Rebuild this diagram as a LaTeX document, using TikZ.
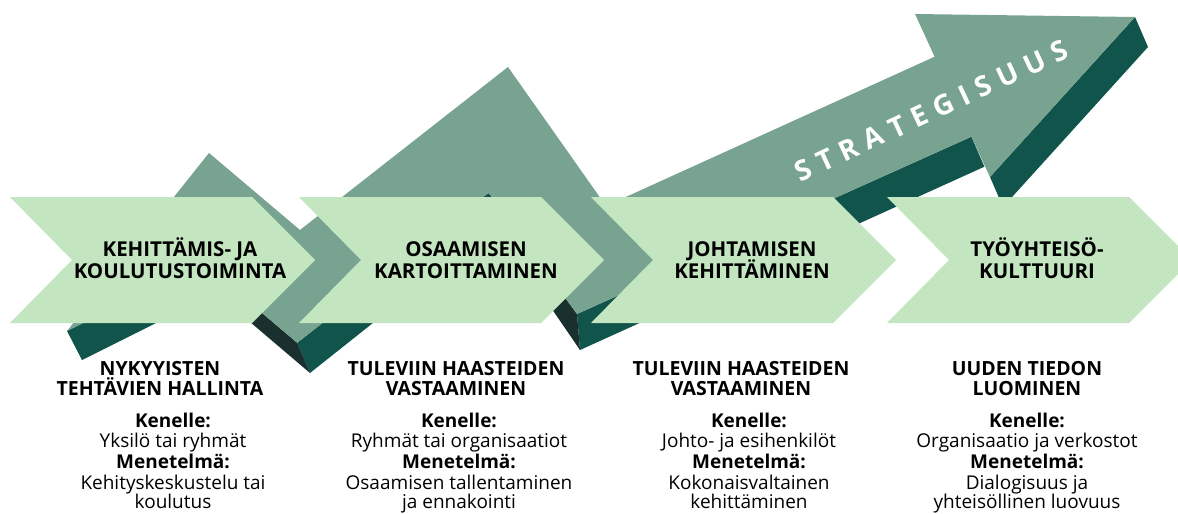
\documentclass[tikz,border=0pt]{standalone}
\usepackage{fontspec}
\setmainfont{Open Sans}
\usetikzlibrary{calc}
\definecolor{chev}{HTML}{C3E6C1}
\definecolor{midg}{HTML}{78A391}
\definecolor{darkg}{HTML}{10544B}
\definecolor{darkst}{HTML}{1A302F}
\newcommand\myls{\kern8.5pt}
\tikzset{
  chevbox/.style={fill=chev},
  topface/.style={fill=midg},
  sideA/.style={fill=darkg},
  sideB/.style={fill=darkst},
  ttl/.style={font=\bfseries\fontsize{20.5}{22}\selectfont, inner sep=0pt, anchor=base, text=black},
  hd/.style={font=\bfseries\fontsize{19.5}{20}\selectfont, inner sep=0pt, anchor=base, text=black},
  bdb/.style={font=\bfseries\fontsize{19}{20}\selectfont, inner sep=0pt, anchor=base, text=black},
  bd/.style={font=\fontsize{19}{20}\selectfont, inner sep=0pt, anchor=base, text=black},
}
\begin{document}
\begin{tikzpicture}[x=1pt,y=-1pt]
\useasboundingbox (0,0) rectangle (1178,514);
\clip (0,0) rectangle (1178,514);
\fill[white] (0,0) rectangle (1178,514);
% zigzag band top-face vertices
\coordinate (v1) at (67,331);
\coordinate (v2) at (209,153);
\coordinate (v3) at (300,230);
\coordinate (v4) at (508,67);
\coordinate (v5) at (606,206);
\coordinate (v6) at (934.6,56.7);
\coordinate (v7) at (915,14);
\coordinate (v8) at (1135,17);
\coordinate (v9) at (990,177);
\coordinate (v10) at (971.4,136.7);
\coordinate (v11) at (577,314);
\coordinate (v12) at (488.5,192.9);
\coordinate (v13) at (297.2,342.8);
\coordinate (v14) at (203,263);
% extruded (lower) vertices
\coordinate (e1) at (82,360);
\coordinate (e8) at (1148,47);
\coordinate (e9) at (1003,207);
\coordinate (e10) at (984.4,166.7);
\coordinate (e11) at (580,350);
\coordinate (e12) at (495,226);
\coordinate (e13) at (310,373);
\coordinate (e14) at (216,293);
% side faces
\fill[sideA] (v8) -- (v9) -- (e9) -- (e8) -- cycle;
\fill[sideA] (v10) -- (v11) -- (e11) -- (e10) -- cycle;
\fill[sideB] (v11) -- (v12) -- (e12) -- (e11) -- cycle;
\fill[sideA] (v12) -- (v13) -- (e13) -- (e12) -- cycle;
\fill[sideB] (v13) -- (v14) -- (e14) -- (e13) -- cycle;
\fill[sideA] (v14) -- (v1) -- (e1) -- (e14) -- cycle;
% top face
\fill[topface] (v1) -- (v2) -- (v3) -- (v4) -- (v5) -- (v6) -- (v7) -- (v8) -- (v9) -- (v10) -- (v11) -- (v12) -- (v13) -- (v14) -- cycle;
% strategisuus label
\node[font=\bfseries\fontsize{28}{28}\selectfont, text=white, rotate=25, inner sep=0pt] (strat) at (931,111)
  {S\myls T\myls R\myls A\myls T\myls E\myls G\myls I\myls S\myls U\myls U\myls S};
% chevrons
\foreach \L in {10,299,591,887}{
  \fill[chevbox] (\L,197) -- (\L+242,197) -- (\L+305,260) -- (\L+242,323) -- (\L,323) -- (\L+62,260) -- cycle;
}
% chevron titles
\node[ttl] (t1a) at (180,256) {KEHITTÄMIS- JA};
\node[ttl] (t1b) at (180,278) {KOULUTUSTOIMINTA};
\node[ttl] (t2a) at (466,256) {OSAAMISEN};
\node[ttl] (t2b) at (466,278) {KARTOITTAMINEN};
\node[ttl] (t3a) at (752,256) {JOHTAMISEN};
\node[ttl] (t3b) at (752,278) {KEHITTÄMINEN};
\node[ttl] (t4a) at (1037,256) {TYÖYHTEISÖ-};
\node[ttl] (t4b) at (1037,278) {KULTTUURI};
% column 1
\node[hd] (h1a) at (160,375) {NYKYYISTEN};
\node[hd] (h1b) at (160,395) {TEHTÄVIEN HALLINTA};
\node[bdb] (k1) at (173,427.3) {Kenelle:};
\node[bd] (k1t) at (173,447.3) {Yksilö tai ryhmät};
\node[bdb] (m1) at (173,468.3) {Menetelmä:};
\node[bd] (m1a) at (173,489.3) {Kehityskeskustelu tai};
\node[bd] (m1b) at (173,508.3) {koulutus};
% column 2
\node[hd] (h2a) at (456,375) {TULEVIIN HAASTEIDEN};
\node[hd] (h2b) at (456,395) {VASTAAMINEN};
\node[bdb] (k2) at (459,427.3) {Kenelle:};
\node[bd] (k2t) at (459,447.3) {Ryhmät tai organisaatiot};
\node[bdb] (m2) at (459,468.3) {Menetelmä:};
\node[bd] (m2a) at (459,489.3) {Osaamisen tallentaminen};
\node[bd] (m2b) at (459,508.3) {ja ennakointi};
% column 3
\node[hd] (h3a) at (741,375) {TULEVIIN HAASTEIDEN};
\node[hd] (h3b) at (741,395) {VASTAAMINEN};
\node[bdb] (k3) at (749,427.3) {Kenelle:};
\node[bd] (k3t) at (749,447.3) {Johto- ja esihenkilöt};
\node[bdb] (m3) at (749,468.3) {Menetelmä:};
\node[bd] (m3a) at (749,489.3) {Kokonaisvaltainen};
\node[bd] (m3b) at (749,508.3) {kehittäminen};
% column 4
\node[hd] (h4a) at (1027,375) {UUDEN TIEDON};
\node[hd] (h4b) at (1027,395) {LUOMINEN};
\node[bdb] (k4) at (1027,427.3) {Kenelle:};
\node[bd] (k4t) at (1027,447.3) {Organisaatio ja verkostot};
\node[bdb] (m4) at (1027,468.3) {Menetelmä:};
\node[bd] (m4a) at (1027,489.3) {Dialogisuus ja};
\node[bd] (m4b) at (1027,508.3) {yhteisöllinen luovuus};
\end{tikzpicture}
\end{document}
